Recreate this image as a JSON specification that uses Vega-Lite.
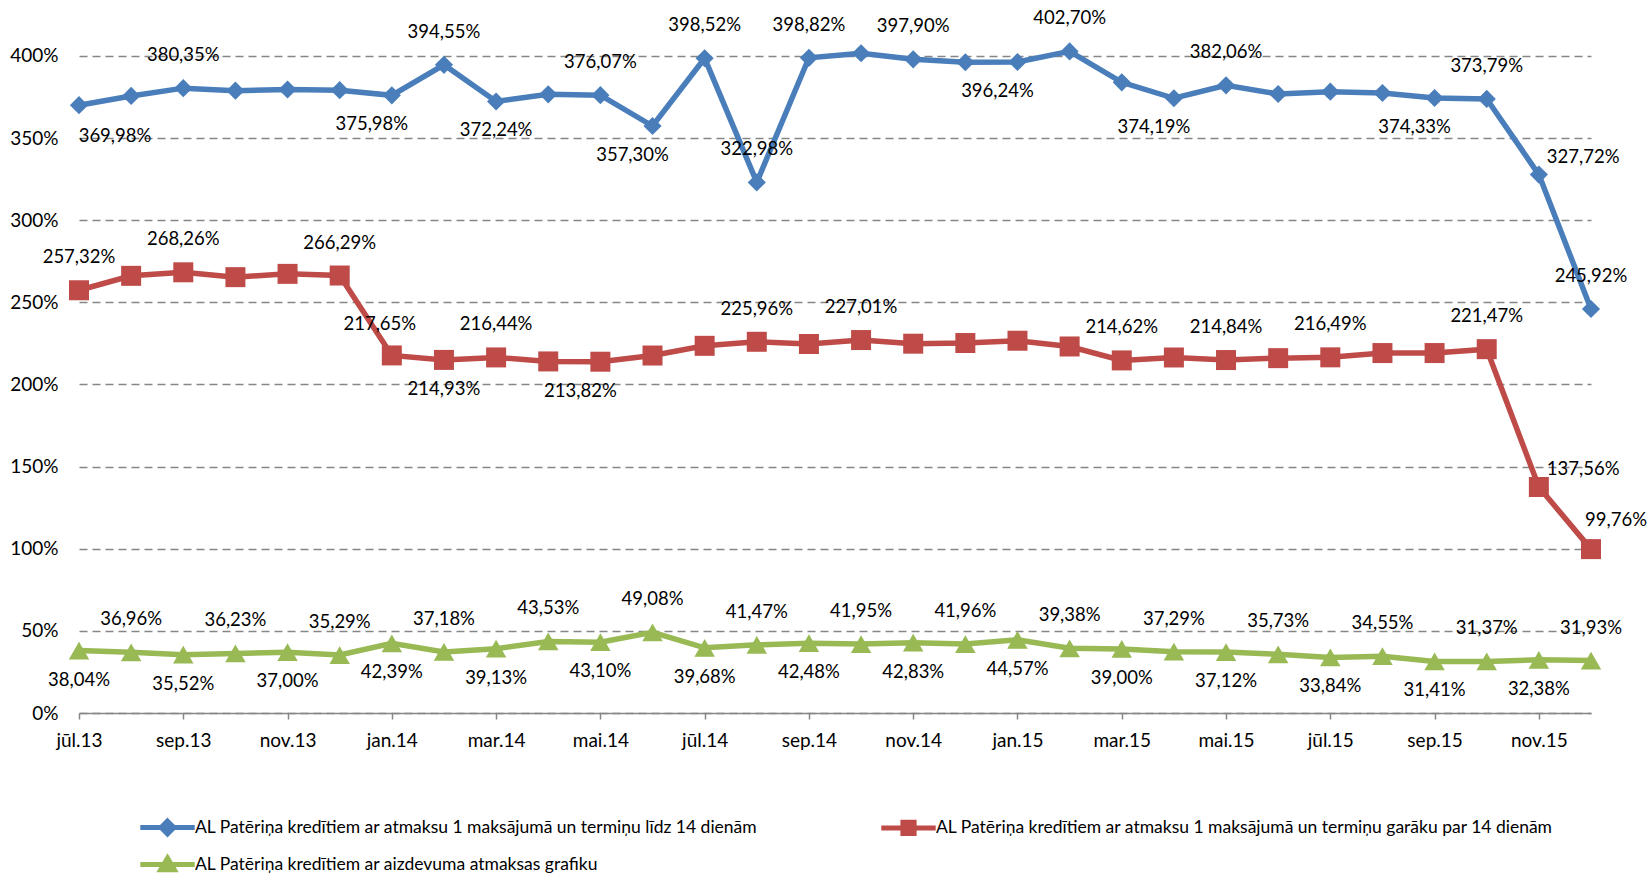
{
  "$schema": "https://vega.github.io/schema/vega-lite/v6.json",
  "autosize": {"type": "none"},
  "width": 1512,
  "height": 713,
  "padding": {"left": 79, "top": 0, "right": 59, "bottom": 161},
  "background": "#ffffff",
  "config": {"view": {"stroke": null}, "font": "Lato"},
  "data": {"values": [
    {"month": "jūl.13", "a": 369.98, "b": 257.32, "c": 38.04},
    {"month": "aug.13", "a": 375.6, "b": 266.1, "c": 36.96},
    {"month": "sep.13", "a": 380.35, "b": 268.26, "c": 35.52},
    {"month": "okt.13", "a": 378.8, "b": 265.3, "c": 36.23},
    {"month": "nov.13", "a": 379.5, "b": 267.3, "c": 37.00},
    {"month": "dec.13", "a": 379.1, "b": 266.29, "c": 35.29},
    {"month": "jan.14", "a": 375.98, "b": 217.65, "c": 42.39},
    {"month": "feb.14", "a": 394.55, "b": 214.93, "c": 37.18},
    {"month": "mar.14", "a": 372.24, "b": 216.44, "c": 39.13},
    {"month": "apr.14", "a": 376.6, "b": 214.0, "c": 43.53},
    {"month": "mai.14", "a": 376.07, "b": 213.82, "c": 43.10},
    {"month": "jūn.14", "a": 357.30, "b": 217.6, "c": 49.08},
    {"month": "jūl.14", "a": 398.52, "b": 223.5, "c": 39.68},
    {"month": "aug.14", "a": 322.98, "b": 225.96, "c": 41.47},
    {"month": "sep.14", "a": 398.82, "b": 224.6, "c": 42.48},
    {"month": "okt.14", "a": 401.6, "b": 227.01, "c": 41.95},
    {"month": "nov.14", "a": 397.90, "b": 224.8, "c": 42.83},
    {"month": "dec.14", "a": 396.1, "b": 225.2, "c": 41.96},
    {"month": "jan.15", "a": 396.24, "b": 226.6, "c": 44.57},
    {"month": "feb.15", "a": 402.70, "b": 223.1, "c": 39.38},
    {"month": "mar.15", "a": 383.9, "b": 214.62, "c": 39.00},
    {"month": "apr.15", "a": 374.19, "b": 216.4, "c": 37.29},
    {"month": "mai.15", "a": 382.06, "b": 214.84, "c": 37.12},
    {"month": "jūn.15", "a": 376.8, "b": 216.0, "c": 35.73},
    {"month": "jūl.15", "a": 378.2, "b": 216.49, "c": 33.84},
    {"month": "aug.15", "a": 377.4, "b": 219.1, "c": 34.55},
    {"month": "sep.15", "a": 374.33, "b": 219.1, "c": 31.41},
    {"month": "okt.15", "a": 373.79, "b": 221.47, "c": 31.37},
    {"month": "nov.15", "a": 327.72, "b": 137.56, "c": 32.38},
    {"month": "dec.15", "a": 245.92, "b": 99.76, "c": 31.93}
  ]},
  "transform": [
    {"fold": ["a", "b", "c"], "as": ["series", "value"]},
    {"calculate": "replace(format(datum.value, '.2f'), '.', ',') + '%'", "as": "lbl"}
  ],
  "encoding": {
    "x": {
      "field": "month", "type": "ordinal",
      "scale": {"type": "point", "padding": 0, "domain": ["jūl.13","aug.13","sep.13","okt.13","nov.13","dec.13","jan.14","feb.14","mar.14","apr.14","mai.14","jūn.14","jūl.14","aug.14","sep.14","okt.14","nov.14","dec.14","jan.15","feb.15","mar.15","apr.15","mai.15","jūn.15","jūl.15","aug.15","sep.15","okt.15","nov.15","dec.15"]},
      "axis": {
        "title": null, "labelAngle": 0, "grid": false,
        "values": ["jūl.13","sep.13","nov.13","jan.14","mar.14","mai.14","jūl.14","sep.14","nov.14","jan.15","mar.15","mai.15","jūl.15","sep.15","nov.15"],
        "domainColor": "#868686", "domainWidth": 1.5,
        "tickColor": "#868686", "tickWidth": 1.5, "tickSize": 6,
        "labelFont": "Lato", "labelFontSize": 19, "labelColor": "#000000", "labelPadding": 12
      }
    },
    "y": {
      "field": "value", "type": "quantitative",
      "scale": {"domain": [0, 434], "nice": false, "zero": true},
      "axis": {
        "title": null, "values": [0, 50, 100, 150, 200, 250, 300, 350, 400],
        "labelExpr": "datum.value + '%'",
        "domain": false, "ticks": false,
        "grid": true, "gridColor": "#868686", "gridDash": [8, 5], "gridWidth": 1.5,
        "labelFont": "Lato", "labelFontSize": 19, "labelColor": "#000000", "labelPadding": 21
      }
    }
  },
  "layer": [
    {
      "mark": {"type": "line", "strokeWidth": 5.5},
      "encoding": {
        "color": {
          "field": "series", "type": "nominal",
          "scale": {"domain": ["a", "b", "c"], "range": ["#4A7EBB", "#BE4B48", "#98B954"]},
          "legend": {
            "title": null, "orient": "none", "legendX": 78, "legendY": 817,
            "direction": "horizontal",
            "columns": 2, "columnPadding": 113, "rowPadding": 4, "padding": 0,
            "labelFont": "Lato", "labelFontSize": 17.5, "labelColor": "#000000", "labelLimit": 1000,
            "labelOffset": 17, "symbolSize": 256, "symbolStrokeWidth": 5,
            "labelExpr": "datum.value === 'a' ? 'AL Patēriņa kredītiem ar atmaksu 1 maksājumā un termiņu līdz 14 dienām' : datum.value === 'b' ? 'AL Patēriņa kredītiem ar atmaksu 1 maksājumā un termiņu garāku par 14 dienām' : 'AL Patēriņa kredītiem ar aizdevuma atmaksas grafiku'",
            "encode": {
              "symbols": {
                "update": {
                  "shape": [
                    {"test": "datum.value === 'a'", "value": "M-3.4,0L3.4,0M0,-0.8L0.8,0L0,0.8L-0.8,0Z"},
                    {"test": "datum.value === 'b'", "value": "M-3.4,0L3.4,0M-0.7,-0.7L0.7,-0.7L0.7,0.7L-0.7,0.7Z"},
                    {"value": "M-3.4,0L3.4,0M0,-0.8L0.85,0.65L-0.85,0.65Z"}
                  ],
                  "fill": [
                    {"test": "datum.value === 'a'", "value": "#4A7EBB"},
                    {"test": "datum.value === 'b'", "value": "#BE4B48"},
                    {"value": "#98B954"}
                  ],
                  "strokeWidth": {"value": 5}
                }
              }
            }
          }
        }
      }
    },
    {
      "transform": [{"filter": "datum.series === 'a'"}],
      "mark": {"type": "point", "shape": "diamond", "size": 330, "filled": true, "opacity": 1, "strokeWidth": 0, "color": "#4A7EBB"}
    },
    {
      "transform": [{"filter": "datum.series === 'b'"}],
      "mark": {"type": "point", "shape": "square", "size": 400, "filled": true, "opacity": 1, "strokeWidth": 0, "color": "#BE4B48"}
    },
    {
      "transform": [{"filter": "datum.series === 'c'"}],
      "mark": {"type": "point", "shape": "triangle-up", "size": 420, "filled": true, "opacity": 1, "strokeWidth": 0, "color": "#98B954"}
    },
    {
      "transform": [{"filter": "(datum.series === 'a' && indexof(['sep.13','feb.14','mai.14','jūl.14','aug.14','sep.14','nov.14','feb.15','mai.15','okt.15','dec.15'], datum.month) >= 0) || (datum.series === 'b' && indexof(['jūl.13','sep.13','dec.13','mar.14','aug.14','okt.14','mar.15','mai.15','jūl.15','okt.15'], datum.month) >= 0) || (datum.series === 'c' && indexof(['aug.13','okt.13','dec.13','feb.14','apr.14','jūn.14','aug.14','okt.14','dec.14','feb.15','apr.15','jūn.15','aug.15','okt.15','dec.15'], datum.month) >= 0)"}],
      "mark": {"type": "text", "dy": -33, "align": "center", "baseline": "middle", "font": "Lato", "fontSize": 18.5, "color": "#000000"},
      "encoding": {"text": {"field": "lbl"}}
    },
    {
      "transform": [{"filter": "(datum.series === 'b' && datum.month === 'jan.14')"}],
      "mark": {"type": "text", "dx": -12, "dy": -31, "align": "center", "baseline": "middle", "font": "Lato", "fontSize": 18.5, "color": "#000000"},
      "encoding": {"text": {"field": "lbl"}}
    },
    {
      "transform": [{"filter": "(datum.series === 'a' && datum.month === 'mar.14') || (datum.series === 'b' && datum.month === 'feb.14') || (datum.series === 'c' && indexof(['jūl.13','sep.13','nov.13','jan.14','mar.14','mai.14','jūl.14','sep.14','nov.14','jan.15','mar.15','mai.15','jūl.15','sep.15','nov.15'], datum.month) >= 0)"}],
      "mark": {"type": "text", "dy": 29, "align": "center", "baseline": "middle", "font": "Lato", "fontSize": 18.5, "color": "#000000"},
      "encoding": {"text": {"field": "lbl"}}
    },
    {
      "transform": [{"filter": "(datum.series === 'a' && indexof(['jan.14','jūn.14','jan.15','apr.15','sep.15'], datum.month) >= 0) || (datum.series === 'b' && datum.month === 'mai.14')"}],
      "mark": {"type": "text", "dx": -20, "dy": 29, "align": "center", "baseline": "middle", "font": "Lato", "fontSize": 18.5, "color": "#000000"},
      "encoding": {"text": {"field": "lbl"}}
    },
    {
      "transform": [{"filter": "datum.series === 'a' && datum.month === 'jūl.13'"}],
      "mark": {"type": "text", "dx": 36, "dy": 31, "align": "center", "baseline": "middle", "font": "Lato", "fontSize": 18.5, "color": "#000000"},
      "encoding": {"text": {"field": "lbl"}}
    },
    {
      "transform": [{"filter": "(datum.series === 'a' || datum.series === 'b') && datum.month === 'nov.15'"}],
      "mark": {"type": "text", "dx": 8, "dy": -18, "align": "left", "baseline": "middle", "font": "Lato", "fontSize": 18.5, "color": "#000000"},
      "encoding": {"text": {"field": "lbl"}}
    },
    {
      "transform": [{"filter": "datum.series === 'b' && datum.month === 'dec.15'"}],
      "mark": {"type": "text", "dx": 25, "dy": -29, "align": "center", "baseline": "middle", "font": "Lato", "fontSize": 18.5, "color": "#000000"},
      "encoding": {"text": {"field": "lbl"}}
    }
  ]
}
